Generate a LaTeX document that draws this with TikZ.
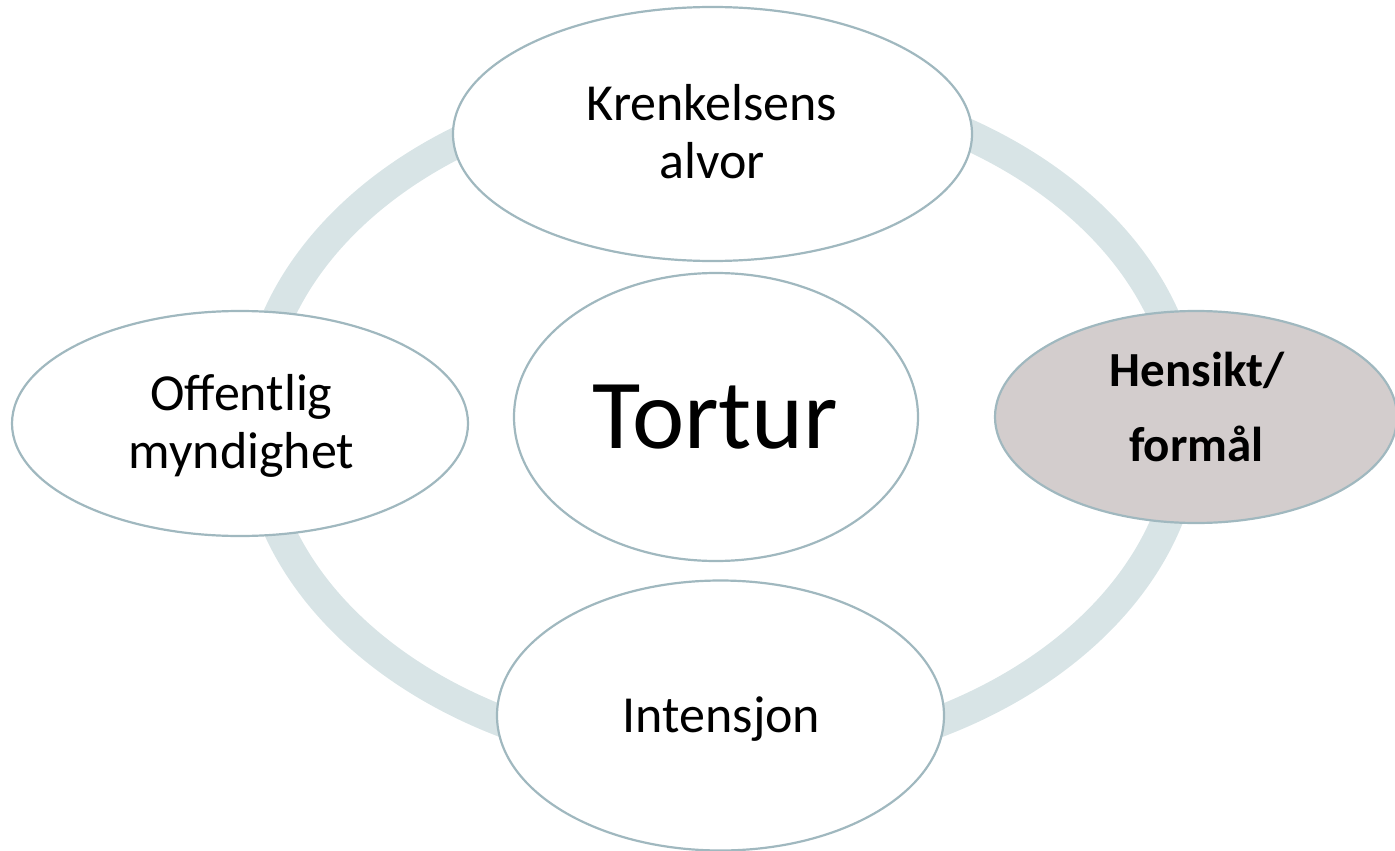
\documentclass[tikz,border=0pt]{standalone}
\usepackage{fontspec}
\setmainfont{Carlito}
\usetikzlibrary{shapes.geometric}
\definecolor{ringcol}{RGB}{216,228,230}
\definecolor{edgecol}{RGB}{160,184,191}
\definecolor{hlfill}{RGB}{211,205,205}
\tikzset{
  oval/.style={ellipse, draw=edgecol, line width=2.2pt, fill=white, inner sep=0pt, outer sep=0pt},
  lbl/.style={anchor=base, inner sep=0pt, font=\fontsize{52}{57}\selectfont},
  biglbl/.style={anchor=base, inner sep=0pt, font=\fontsize{99}{110}\selectfont},
  boldlbl/.style={anchor=base, inner sep=0pt, font=\fontsize{49}{55}\selectfont\bfseries}
}
\begin{document}
\begin{tikzpicture}[x=1pt,y=-1pt]
\useasboundingbox (0,0) rectangle (1395,851);
% ring
\draw[ringcol, line width=31pt] (721,422) ellipse [x radius=466, y radius=339];
% ellipses
\node[oval, minimum width=519pt, minimum height=254pt] (top) at (712.5,134) {};
\node[oval, minimum width=456pt, minimum height=225pt] (left) at (240,423.5) {};
\node[oval, minimum width=404pt, minimum height=288pt] (center) at (716,417) {};
\node[oval, fill=hlfill, minimum width=402pt, minimum height=212pt] (right) at (1196,417) {};
\node[oval, minimum width=447pt, minimum height=270pt] (bottom) at (720.5,715.5) {};
% texts
\node[lbl] (t1) at (712,121) {Krenkelsens};
\node[lbl] (t2) at (712,178) {alvor};
\node[lbl] (l1) at (241.5,410) {Offentlig};
\node[lbl] (l2) at (241.5,468) {myndighet};
\node[biglbl] (c1) at (715.5,448) {Tortur};
\node[lbl] (b1) at (721.5,732) {Intensjon};
\node[boldlbl] (r1) at (1197,386) {Hensikt/};
\node[boldlbl] (r2) at (1196.5,461) {formål};
\end{tikzpicture}
\end{document}
